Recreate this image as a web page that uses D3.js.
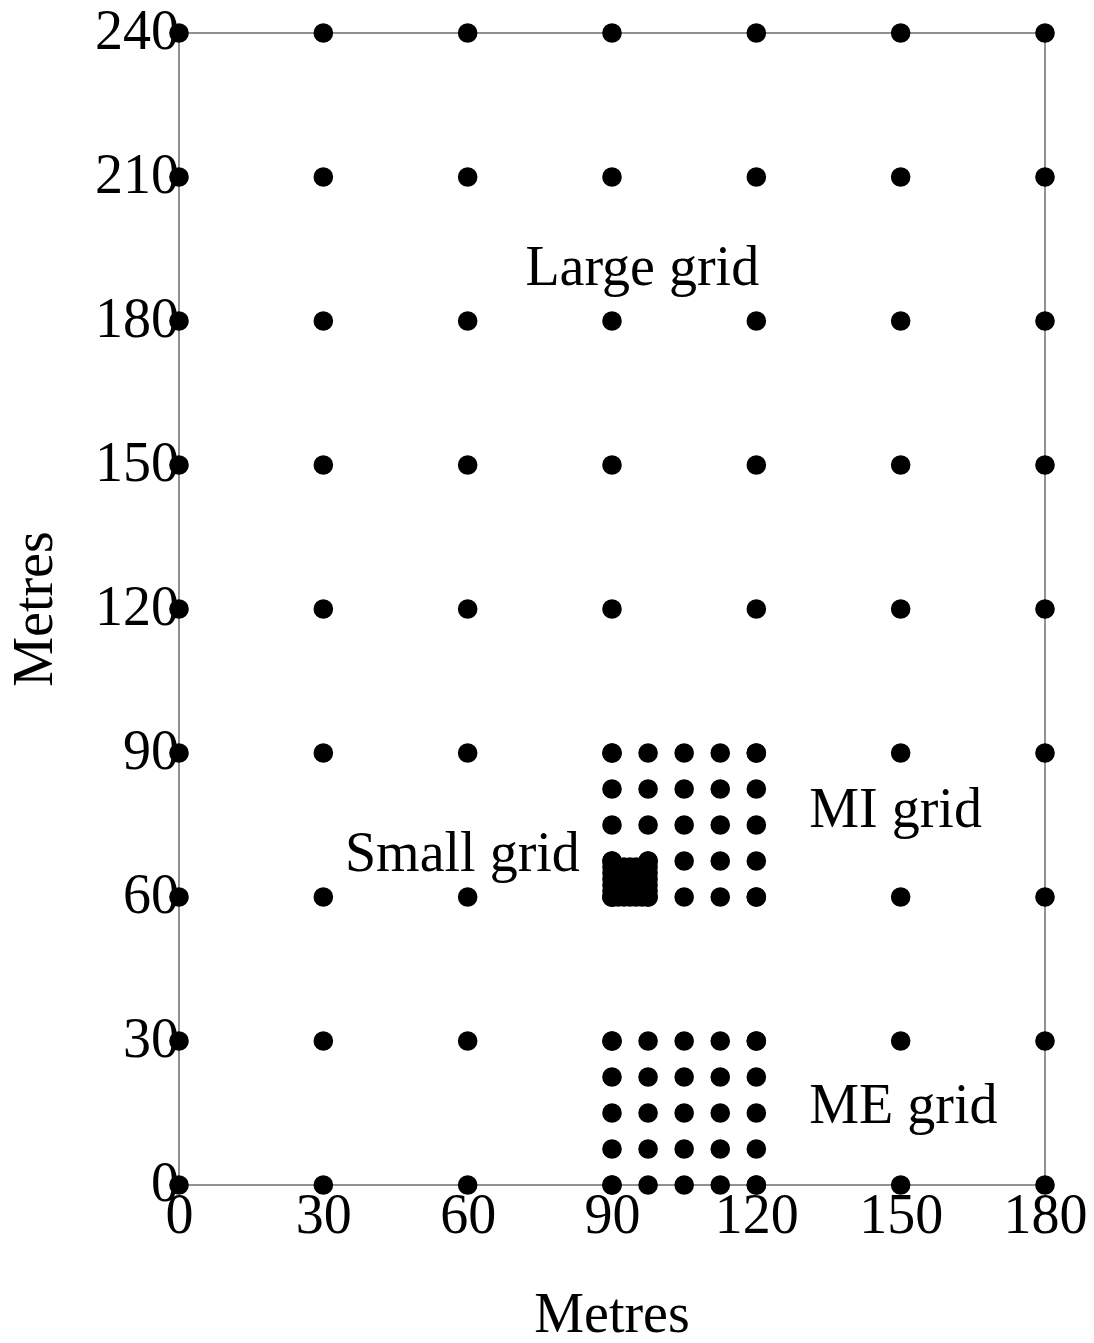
<!DOCTYPE html>
<html>
<head>
<meta charset="utf-8">
<script src="https://cdn.jsdelivr.net/npm/d3@7"></script>
<style>
  html, body { margin: 0; padding: 0; background: #fff; }
  svg { display: block; }
  text { font-family: "Liberation Serif", "Times New Roman", serif; fill: #000; }
</style>
</head>
<body>
<script>
// Sampling layout, in metres
const xTicks = [0, 30, 60, 90, 120, 150, 180];
const yTicks = [0, 30, 60, 90, 120, 150, 180, 210, 240];

// Large grid: 30 m spacing over the whole plot
const largeX = [0, 30, 60, 90, 120, 150, 180];
const largeY = [0, 30, 60, 90, 120, 150, 180, 210, 240];

// MI grid: 7.5 m spacing
const miX = [90, 97.5, 105, 112.5, 120];
const miY = [60, 67.5, 75, 82.5, 90];

// ME grid: 7.5 m spacing
const meX = [90, 97.5, 105, 112.5, 120];
const meY = [0, 7.5, 15, 22.5, 30];

// Small grid: 1.25 m spacing, with the two outer corners of the top row
const smallX = [90, 91.25, 92.5, 93.75, 95, 96.25, 97.5];
const smallY = [60, 61.25, 62.5, 63.75, 65, 66.25];
const smallCorners = [[90, 67.5], [97.5, 67.5]];

// Grid names and where they are written (x, y of the text start, metres)
const labelText = ["Large grid", "MI grid", "Small grid", "ME grid"];
const labelX = [72, 131, 34.5, 131];
const labelY = [187.5, 74.5, 65.5, 13];

const W = 1094, H = 1343;
const margin = { left: 179, right: 49, top: 33, bottom: 158 };

const svg = d3.select("body").append("svg")
  .attr("width", W).attr("height", H);

const x = d3.scaleLinear().domain([0, 180]).range([margin.left, W - margin.right]);
const y = d3.scaleLinear().domain([0, 240]).range([H - margin.bottom, margin.top]);

const FS = 56;

// Frame
const frame = svg.append("g").attr("stroke", "#222").attr("stroke-width", 1).attr("fill", "none");
frame.append("rect")
  .attr("x", x(0)).attr("y", y(240))
  .attr("width", x(180) - x(0)).attr("height", y(0) - y(240));

// Axes (labels only, no tick marks)
const xAxis = svg.append("g")
  .attr("transform", `translate(0,${y(0)})`)
  .call(d3.axisBottom(x).tickValues(xTicks).tickSize(0).tickFormat(d3.format("d")));
xAxis.select(".domain").remove();
xAxis.selectAll("text")
  .attr("y", 48).attr("dy", null)
  .style("font-size", FS + "px")
  .style("font-family", "'Liberation Serif', serif");

const yAxis = svg.append("g")
  .attr("transform", `translate(${x(0)},0)`)
  .call(d3.axisLeft(y).tickValues(yTicks).tickSize(0).tickFormat(d3.format("d")));
yAxis.select(".domain").remove();
yAxis.selectAll("text")
  .attr("x", 0).attr("dy", "0.28em")
  .style("font-size", FS + "px")
  .style("font-family", "'Liberation Serif', serif");

// Axis titles
svg.append("text")
  .attr("x", (x(0) + x(180)) / 2).attr("y", 1332)
  .attr("text-anchor", "middle")
  .style("font-size", FS + "px")
  .text("Metres");

svg.append("text")
  .attr("transform", `translate(52,${(y(0) + y(240)) / 2}) rotate(-90)`)
  .attr("text-anchor", "middle")
  .style("font-size", FS + "px")
  .text("Metres");

// Build point lists
const cross = (xs, ys) => ys.flatMap(yy => xs.map(xx => [xx, yy]));
const points = [
  ...cross(largeX, largeY),
  ...cross(miX, miY),
  ...cross(meX, meY),
  ...cross(smallX, smallY),
  ...smallCorners
];

svg.append("g")
  .selectAll("circle")
  .data(points)
  .join("circle")
  .attr("cx", d => x(d[0]))
  .attr("cy", d => y(d[1]))
  .attr("r", 9.8)
  .attr("fill", "#000");

// Grid names
svg.append("g")
  .selectAll("text")
  .data(labelText)
  .join("text")
  .attr("x", (d, i) => x(labelX[i]))
  .attr("y", (d, i) => y(labelY[i]))
  .style("font-size", FS + "px")
  .text(d => d);
</script>
</body>
</html>
